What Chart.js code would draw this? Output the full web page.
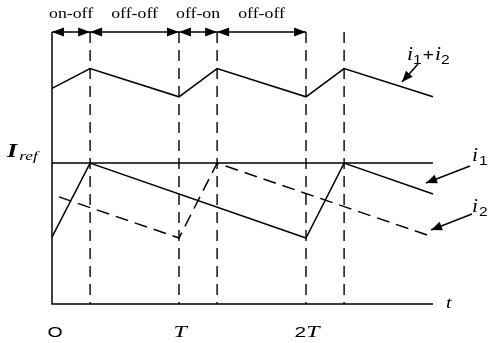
<!DOCTYPE html>
<html><head><meta charset="utf-8">
<script src="https://cdn.jsdelivr.net/npm/chart.js@4.4.1/dist/chart.umd.min.js"></script>
<style>html,body{margin:0;padding:0;background:#fff}canvas{display:block}</style>
</head><body>
<canvas id="c" width="495" height="343"></canvas>
<script>
// time in units of T, current in arbitrary units (Iref = 10)
const sumTimes = [0, 0.3, 1, 1.3, 2, 2.3, 3];
const sumValues = [15.3, 16.7, 14.7, 16.7, 14.7, 16.7, 14.7];
const i1Times = [0, 0.3, 2, 2.3, 3];
const i1Values = [4.75, 10, 4.68, 10, 7.8];
const i2Times = [0.055, 1, 1.3, 3];
const i2Values = [7.6, 4.68, 10, 4.75];
const iref = 10;
const tMax = 3;
const yMax = 19.3;
const switchTimes = [0.3, 1, 1.3, 2, 2.3];
const phaseBounds = [0, 0.3, 1, 1.3, 2];
const phaseLabels = ['on-off', 'off-off', 'off-on', 'off-off'];
const tickTimes = [0, 1, 2];
const tickLabels = ['O', 'T', '2T'];

const pts = (xs, ys) => xs.map((x, i) => ({x, y: ys[i]}));
const base = {showLine: true, pointRadius: 0, borderColor: '#000', borderWidth: 1.5, clip: false, tension: 0};

function arrowHead(ctx, x1, y1, x2, y2, len, half) {
  const a = Math.atan2(y2 - y1, x2 - x1);
  ctx.beginPath();
  ctx.moveTo(x2, y2);
  ctx.lineTo(x2 - len * Math.cos(a) + half * Math.sin(a), y2 - len * Math.sin(a) - half * Math.cos(a));
  ctx.lineTo(x2 - len * Math.cos(a) - half * Math.sin(a), y2 - len * Math.sin(a) + half * Math.cos(a));
  ctx.closePath();
  ctx.fill();
}
function arrow(ctx, x1, y1, x2, y2) {
  ctx.beginPath(); ctx.moveTo(x1, y1); ctx.lineTo(x2, y2); ctx.stroke();
  arrowHead(ctx, x1, y1, x2, y2, 11, 4.5);
}
// horizontally stretched text, returns advance width
function txt(ctx, s, font, x, y, sx) {
  ctx.font = font;
  const w = ctx.measureText(s).width * sx;
  ctx.save(); ctx.translate(x, y); ctx.scale(sx, 1); ctx.textAlign = 'left'; ctx.fillText(s, 0, 0); ctx.restore();
  return w;
}
function txtW(ctx, s, font, sx) { ctx.font = font; return ctx.measureText(s).width * sx; }
// parts: [text, font, dy, gapAfter]
function rich(ctx, parts, x, y, sx) {
  parts.forEach(p => { x += txt(ctx, p[0], p[1], x, y + (p[2] || 0), sx) + (p[3] || 0); });
}
const SER_I = 'italic 18px "Liberation Serif"';
const SUB = '13px "Liberation Sans"';

const deco = {
  id: 'deco',
  beforeDraw(chart) {
    const ctx = chart.ctx;
    ctx.save(); ctx.fillStyle = '#fff'; ctx.fillRect(0, 0, chart.width, chart.height); ctx.restore();
  },
  afterDraw(chart) {
    const ctx = chart.ctx, xs = chart.scales.x, ys = chart.scales.y;
    ctx.save();
    ctx.fillStyle = '#000'; ctx.strokeStyle = '#000'; ctx.lineWidth = 1.5;
    ctx.textBaseline = 'alphabetic';
    const yTop = ys.getPixelForValue(yMax);
    // phase arrows and labels
    const PF = '14px "Liberation Serif"', PS = 1.27;
    for (let i = 0; i < phaseLabels.length; i++) {
      const a = xs.getPixelForValue(phaseBounds[i]), b = xs.getPixelForValue(phaseBounds[i + 1]);
      ctx.beginPath(); ctx.moveTo(a, yTop); ctx.lineTo(b, yTop); ctx.stroke();
      arrowHead(ctx, b, yTop, a, yTop, 12, 4.5);
      arrowHead(ctx, a, yTop, b, yTop, 12, 4.5);
      const w = txtW(ctx, phaseLabels[i], PF, PS);
      txt(ctx, phaseLabels[i], PF, (a + b) / 2 - w / 2, 18, PS);
    }
    // tick labels
    const yb = 337;
    tickLabels.forEach((lab, i) => {
      const x = xs.getPixelForValue(tickTimes[i]);
      if (lab === 'T') {
        const f = 'italic 17px "Liberation Serif"', w = txtW(ctx, 'T', f, 1.4);
        txt(ctx, 'T', f, x + 1 - w / 2, yb, 1.4);
      } else if (lab === '2T') {
        const f1 = '15px "Liberation Sans"', f2 = 'italic 17px "Liberation Serif"';
        const w = txtW(ctx, '2', f1, 1.4) + txtW(ctx, 'T', f2, 1.4);
        rich(ctx, [['2', f1, 0, 0], ['T', f2]], x + 1 - w / 2, yb, 1.4);
      } else {
        const f = '15px "Liberation Sans"', w = txtW(ctx, lab, f, 1.3);
        txt(ctx, lab, f, x + 3 - w / 2, yb, 1.3);
      }
    });
    // t axis label
    txt(ctx, 't', 'italic 17px "Liberation Serif"', 446, 308, 1.2);
    // Iref
    rich(ctx, [['I', 'bold italic 18px "Liberation Serif"', 0, 2], ['ref', 'italic 12px "Liberation Serif"', 3]], 7, 157, 1.45);
    // i1+i2
    rich(ctx, [['i', SER_I, 0, 0], ['1', SUB, 4, 1], ['+', '16px "Liberation Sans"', 0, 1], ['i', SER_I, 0, 0], ['2', SUB, 4]], 407, 60, 1.2);
    arrow(ctx, 418, 64, 402, 82);
    // i1
    rich(ctx, [['i', SER_I, 0, 1], ['1', SUB, 4]], 472, 161, 1.2);
    arrow(ctx, 470, 166, 426, 183);
    // i2
    rich(ctx, [['i', SER_I, 0, 1], ['2', SUB, 4]], 472, 212, 1.2);
    arrow(ctx, 472, 214, 431, 230);
    ctx.restore();
  }
};

const vlineSets = switchTimes.map(t => ({...base, data: [{x: t, y: yMax}, {x: t, y: 0}], borderDash: [11, 7], borderWidth: 1.4}));

new Chart(document.getElementById('c'), {
  type: 'scatter',
  data: {
    datasets: [
      {...base, data: [{x: 0, y: yMax}, {x: 0, y: 0}, {x: tMax, y: 0}]},
      ...vlineSets,
      {...base, data: [{x: 0, y: iref}, {x: tMax, y: iref}]},
      {...base, data: pts(sumTimes, sumValues)},
      {...base, data: pts(i1Times, i1Values)},
      {...base, data: pts(i2Times, i2Values), borderDash: [13, 7]}
    ]
  },
  options: {
    responsive: false, devicePixelRatio: 1, animation: false,
    layout: {padding: {left: 52, top: 32, right: 62, bottom: 39}},
    scales: {
      x: {type: 'linear', min: 0, max: tMax, display: false},
      y: {type: 'linear', min: 0, max: yMax, display: false}
    },
    plugins: {legend: {display: false}, tooltip: {enabled: false}}
  },
  plugins: [deco]
});
</script>
</body></html>
